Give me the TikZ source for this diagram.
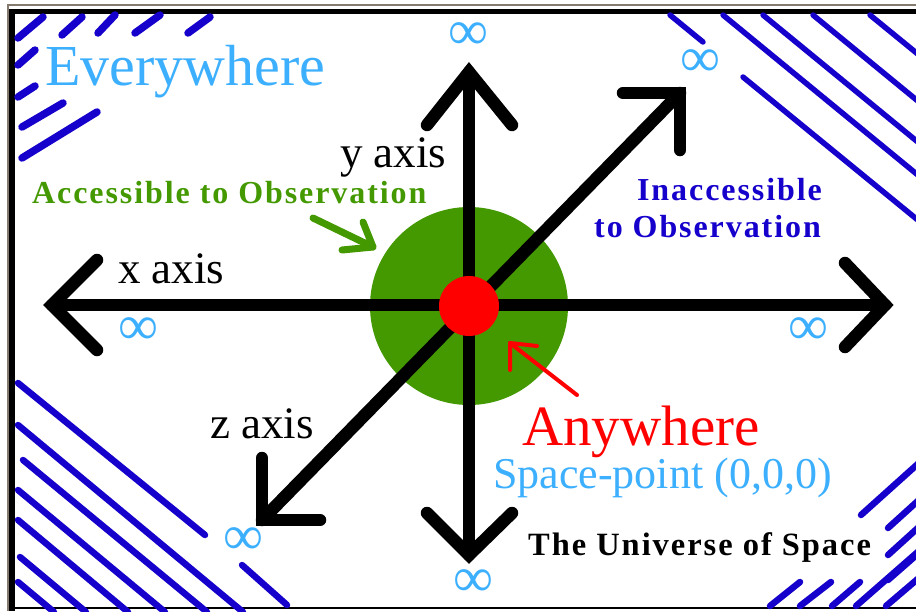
\documentclass[tikz,border=0pt]{standalone}
\usepackage{fontspec}
\setmainfont{Liberation Serif}
\newfontfamily\decofont[LetterSpace=6]{Liberation Serif}
\definecolor{skyblue}{RGB}{60,175,255}
\definecolor{stripeblue}{RGB}{22,0,204}
\definecolor{obsgreen}{RGB}{68,153,0}
\definecolor{framegray}{RGB}{133,122,110}
\begin{document}
\begin{tikzpicture}[x=1pt,y=-1pt,
  axisline/.style={line width=12.5pt, line cap=round, line join=miter},
  stripe/.style={draw=stripeblue, line width=6.5pt, line cap=round},
  inf/.style={text=skyblue, font=\fontsize{56}{56}\selectfont, inner sep=0pt},
  lbl/.style={inner sep=0pt, anchor=base west},
  deco/.style={inner sep=0pt, anchor=base west, font=\decofont\bfseries\fontsize{32}{34}\selectfont},
]
\useasboundingbox (0,0) rectangle (916,611);
\fill[white] (0,0) rectangle (916,611);
\begin{scope}
\clip (0,0) rectangle (916,611);
% frame
\draw[framegray, line width=1.5pt] (8,611) -- (8,5) -- (916,5);
\draw[black, line width=6pt] (12,611) -- (12,9);
\draw[black, line width=5pt] (9,11.5) -- (916,11.5);
\draw[black, line width=2.5pt] (9,608) -- (916,608);

% stripes top-left
\begin{scope}[stripe/.append style={line width=7.5pt}]
\draw[stripe] (18,38) -- (43,17);
\draw[stripe] (62,35) -- (82,17);
\draw[stripe] (98,33) -- (115,15);
\draw[stripe] (135,33) -- (160,15);
\draw[stripe] (188,33) -- (210,17);
\draw[stripe] (18,65) -- (35,50);
\draw[stripe] (18,97) -- (35,86);
\draw[stripe] (22,127) -- (63,103);
\draw[stripe] (22,158) -- (97,112);
\end{scope}
% stripes top-right
\begin{scope}[stripe/.append style={line width=5.5pt}]
\draw[stripe] (670,15) -- (703,42);
\draw[stripe] (723,15) -- (930,185);
\draw[stripe] (763,15) -- (930,152);
\draw[stripe] (813,15) -- (930,111);
\draw[stripe] (870,15) -- (930,64);
\draw[stripe] (743,77) -- (930,230);
\end{scope}
% stripes bottom-left
\draw[stripe] (18,383) -- (205,535);
\draw[stripe] (18,425) -- (243,612);
\draw[stripe] (23,460) -- (207,612);
\draw[stripe] (18,490) -- (165,612);
\draw[stripe] (18,520) -- (128,612);
\draw[stripe] (20,557) -- (86,612);
\draw[stripe] (18,582) -- (54,612);
\draw[stripe] (242,565) -- (287,605);
% stripes bottom-right
\draw[stripe] (861,515) -- (920,462);
\draw[stripe] (888,528) -- (920,499);
\draw[stripe] (888,555) -- (920,526);
\draw[stripe] (888,580) -- (920,552);
\draw[stripe] (770,606) -- (800,582);
\draw[stripe] (800,606) -- (831,582);
\draw[stripe] (832,606) -- (860,582);
\draw[stripe] (856,606) -- (920,550);
\draw[stripe] (886,606) -- (920,577);
\end{scope}

% coordinates
\coordinate (O) at (469,306);
\coordinate (xL) at (52,305);
\coordinate (xR) at (885,305);
\coordinate (yT) at (469,72);
\coordinate (yB) at (469,555);
\coordinate (zL) at (262,520);
\coordinate (zR) at (680,93);

% accessible region and origin
\node[circle, fill=obsgreen, minimum size=198pt, inner sep=0pt] (acc) at (O) {};

% axes
\draw[axisline] (xL) -- (xR);
\draw[axisline] (yT) -- (yB);
\draw[axisline] (zL) -- (zR);
% arrow heads
\draw[axisline] (xL) ++(45,-45) -- (xL) -- ++(45,45);
\draw[axisline] (xR) ++(-40,-42) -- (xR) -- ++(-40,42);
\draw[axisline] (yT) ++(-42,53) -- (yT) -- ++(43,53);
\draw[axisline] (yB) ++(-42,-42) -- (yB) -- ++(43,-42);
\draw[axisline] (zL) ++(0,-62) -- (zL) -- ++(58,0);
\draw[axisline] (zR) ++(-57,0) -- (zR) -- ++(0,57);

\node[circle, fill=red, minimum size=60pt, inner sep=0pt] (orig) at (O) {};

% infinity marks
\node[inf] (infT) at (468,36) {∞};
\node[inf] (infTR) at (700,63) {∞};
\node[inf] (infL) at (138,331) {∞};
\node[inf] (infR) at (808,331) {∞};
\node[inf] (infLL) at (243,541) {∞};
\node[inf] (infB) at (473,583) {∞};

% labels
\node[lbl, text=skyblue, font=\fontsize{58}{60}\selectfont] (every) at (45,85) {Everywhere};
\node[lbl, font=\fontsize{45}{47}\selectfont] (xlab) at (118,283) {x axis};
\node[lbl, font=\fontsize{45}{47}\selectfont] (ylab) at (340,167) {y axis};
\node[lbl, font=\fontsize{45}{47}\selectfont] (zlab) at (210,438) {z axis};
\node[lbl, text=red, font=\fontsize{57}{60}\selectfont] (any) at (522,445) {Anywhere};
\node[lbl, text=skyblue, font=\fontsize{44}{46}\selectfont] (sp) at (493,488) {Space-point (0,0,0)};
\node[deco, text=obsgreen] (accl) at (32,203) {Accessible to Observation};
\node[deco, text=stripeblue, anchor=base east] (inacc1) at (822,200) {Inaccessible};
\node[deco, text=stripeblue, anchor=base east] (inacc2) at (821,237) {to Observation};
\node[deco, font=\decofont\bfseries\fontsize{32.5}{35}\selectfont] (univ) at (528,555) {The Universe of Space};

% pointer arrows
\coordinate (gTail) at (313,218);
\coordinate (gTip) at (373,247);
\draw[obsgreen, line width=7pt, line cap=round, line join=round] (gTail) -- (gTip);
\draw[obsgreen, line width=7pt, line cap=round, line join=round] (gTip) ++(-10,-25) -- (gTip) -- ++(-31,3);
\coordinate (rTail) at (577,395);
\coordinate (rTip) at (510,343);
\draw[red, line width=4pt, line cap=round, line join=round] (rTail) -- (rTip);
\draw[red, line width=4pt, line cap=round, line join=round] (rTip) ++(27,3) -- (rTip) -- ++(0,27);
\end{tikzpicture}
\end{document}
